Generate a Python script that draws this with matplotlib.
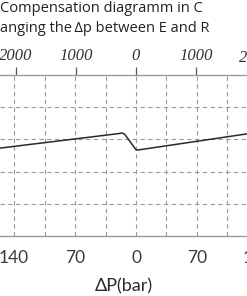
import numpy as np
import matplotlib
matplotlib.use('Agg')
import matplotlib.pyplot as plt
from matplotlib.transforms import blended_transform_factory

# Compensation curve (dp in bar, y in grid units)
dp_bar = [-156, -20, -16, -13, 0, 2, 127]
comp = [2.73, 3.18, 3.20, 3.16, 2.68, 2.67, 3.17]

bar_ticks = [-140, -70, 0, 70, 140]
bar_labels = ['140', '70', '0', '70', '140']
psi_ticks = [-2000, -1000, 0, 1000, 2000]
psi_labels = ['2000', '1000', '0', '1000', '2000']
psi_per_bar = 14.5038

fig = plt.figure(figsize=(2.47, 2.96), dpi=100)
ax = fig.add_axes([0, 1 - 236 / 296, 1, 161 / 296])

# dashed grid every 35 bar and each unit
for x in np.arange(-140, 141, 35):
    ax.axvline(x, color='#9a9a9a', lw=0.8, ls=(0, (4, 3)), zorder=1)
for y in [1, 2, 3, 4]:
    ax.axhline(y, color='#9a9a9a', lw=0.8, ls=(0, (4, 3)), zorder=1)

ax.plot(dp_bar, comp, color='#2a2a2a', lw=1.1, zorder=3)

for s in ['left', 'right']:
    ax.spines[s].set_visible(False)
for s in ['top', 'bottom']:
    ax.spines[s].set_color('#9a9a9a')
    ax.spines[s].set_linewidth(1.0)

# the last tick of each scale falls past the right edge; drawn as plain text below
ax.set_yticks([])
ax.set_xticks(bar_ticks[:-1])
ax.set_xticklabels(bar_labels[:-1], fontfamily='Lato', fontsize=12.5, color='#3a3a3a')
ax.tick_params(axis='x', length=0, pad=10)
ax.set_xlabel('ΔP(bar)', fontfamily='Lato', fontsize=13, color='#2a2a2a', labelpad=9)

ax.set_xlim(-156.1, 127.4)
ax.set_ylim(0, 5)

# top axis in psi
top = ax.secondary_xaxis('top', functions=(lambda b: b * psi_per_bar, lambda p: p / psi_per_bar))
top.set_xticks(psi_ticks[:-1])
top.set_xticklabels(psi_labels[:-1], fontfamily='Liberation Serif', fontstyle='italic', fontsize=12, color='#333333')
top.tick_params(axis='x', length=6, width=0.9, color='#555555', pad=2)
top.spines['top'].set_visible(False)

tr = blended_transform_factory(ax.transData, fig.transFigure)
ax.text(bar_ticks[-1], 1 - 258 / 296, bar_labels[-1], transform=tr, fontfamily='Lato', fontsize=12.5,
        color='#3a3a3a', ha='center', va='center', clip_on=False)
ax.text(psi_ticks[-1] / psi_per_bar, 1 - 58 / 296, psi_labels[-1], transform=tr, fontfamily='Liberation Serif',
        fontstyle='italic', fontsize=12, color='#333333', ha='center', va='center', clip_on=False)

fig.text(0.0, 1 - 8 / 296, 'Compensation diagramm in C', fontfamily='Open Sans', fontsize=10.5,
         color='#222222', ha='left', va='center')
fig.text(0.0, 1 - 29 / 296, 'anging the\u2009\u0394p between E and R', fontfamily=['Open Sans', 'DejaVu Sans'],
         fontsize=10.5, color='#222222', ha='left', va='center')

fig.savefig('out.png', dpi=100)
